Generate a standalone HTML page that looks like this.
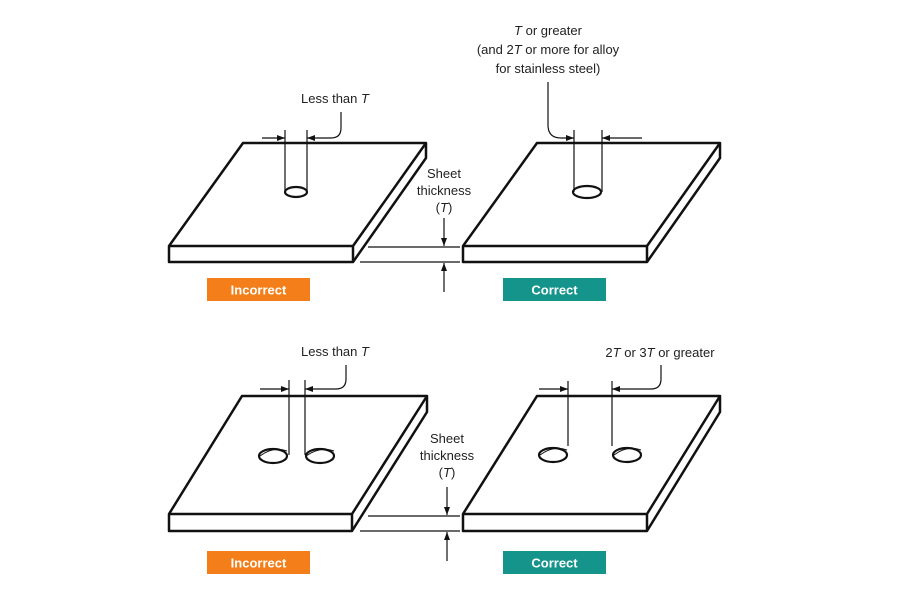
<!DOCTYPE html>
<html><head><meta charset="utf-8"><style>
html,body{margin:0;padding:0;background:#fff;}
svg{display:block;}
text{font-family:"Liberation Sans",sans-serif;font-size:13px;fill:#222;}
.lbl{font-weight:bold;fill:#fff;font-size:13px;}
</style></head><body>
<svg width="900" height="600" viewBox="0 0 900 600" xmlns="http://www.w3.org/2000/svg">
<defs>
<marker id="a" markerWidth="8" markerHeight="6" refX="8" refY="3" orient="auto" markerUnits="userSpaceOnUse"><path d="M0,0 L8,3 L0,6 z" fill="#111"/></marker>
</defs>
<g fill="none" stroke="#111">
<!-- top-left plate -->
<g stroke-width="2.5" stroke-linejoin="round">
<path d="M169,246 L243,143 L426,143 L426,158 L353,262 L169,262 Z"/>
<path d="M169,246 L353,246 L426,143 M353,246 L353,262"/>
<!-- top-right plate -->
<path d="M463,246 L537,143 L720,143 L720,158 L647,262 L463,262 Z"/>
<path d="M463,246 L647,246 L720,143 M647,246 L647,262"/>
<!-- bottom-left plate -->
<path d="M169,514 L242,396 L427,396 L427,412 L352,531 L169,531 Z"/>
<path d="M169,514 L352,514 L427,396 M352,514 L352,531"/>
<!-- bottom-right plate -->
<path d="M463,514 L537,396 L720,396 L720,412 L647,531 L463,531 Z"/>
<path d="M463,514 L647,514 L720,396 M647,514 L647,531"/>
</g>
<!-- holes -->
<g stroke-width="2.2">
<ellipse cx="296" cy="192" rx="11" ry="5"/>
<ellipse cx="587" cy="192" rx="14" ry="6"/>
<ellipse cx="273" cy="456" rx="14" ry="7"/>
<ellipse cx="320" cy="456" rx="14" ry="7"/>
<ellipse cx="553" cy="455" rx="14" ry="7"/>
<ellipse cx="627" cy="455" rx="14" ry="7"/>
</g>
<g stroke-width="1.2">
<path d="M287,451 Q273,446 260,456 M334,451 Q320,446 306,456 M567,450 Q553,445 540,455 M641,450 Q627,445 614,455" stroke-width="1"/>
<!-- dimension lines -->
<line x1="285" y1="130" x2="285" y2="192"/>
<line x1="307" y1="130" x2="307" y2="192"/>
<line x1="262" y1="138" x2="285" y2="138" marker-end="url(#a)"/>
<path d="M341,112 L341,128 Q341,138 331,138 L307,138" marker-end="url(#a)"/>
<line x1="574" y1="130" x2="574" y2="192"/>
<line x1="602" y1="130" x2="602" y2="192"/>
<line x1="642" y1="138" x2="602" y2="138" marker-end="url(#a)"/>
<path d="M548,82 L548,125 Q548,138 561,138 L574,138" marker-end="url(#a)"/>
<line x1="289" y1="380" x2="289" y2="455"/>
<line x1="305" y1="380" x2="305" y2="455"/>
<line x1="260" y1="389" x2="289" y2="389" marker-end="url(#a)"/>
<path d="M346,365 L346,379 Q346,389 336,389 L305,389" marker-end="url(#a)"/>
<line x1="568" y1="381" x2="568" y2="446"/>
<line x1="612" y1="381" x2="612" y2="446"/>
<line x1="539" y1="389" x2="568" y2="389" marker-end="url(#a)"/>
<path d="M661,365 L661,379 Q661,389 651,389 L612,389" marker-end="url(#a)"/>
<!-- thickness -->
<line x1="368" y1="247" x2="460" y2="247"/>
<line x1="360" y1="262" x2="460" y2="262"/>
<line x1="444" y1="218" x2="444" y2="246" marker-end="url(#a)"/>
<line x1="444" y1="292" x2="444" y2="263" marker-end="url(#a)"/>
<line x1="368" y1="516" x2="460" y2="516"/>
<line x1="360" y1="531" x2="460" y2="531"/>
<line x1="447" y1="487" x2="447" y2="515" marker-end="url(#a)"/>
<line x1="447" y1="561" x2="447" y2="532" marker-end="url(#a)"/>
</g>
</g>
<text x="335" y="103" text-anchor="middle">Less than <tspan font-style="italic">T</tspan></text>
<text x="335" y="356" text-anchor="middle">Less than <tspan font-style="italic">T</tspan></text>
<text x="548" y="35" text-anchor="middle"><tspan font-style="italic">T</tspan> or greater</text>
<text x="548" y="54" text-anchor="middle">(and 2<tspan font-style="italic">T</tspan> or more for alloy</text>
<text x="548" y="73" text-anchor="middle">for stainless steel)</text>
<text x="660" y="357" text-anchor="middle">2<tspan font-style="italic">T</tspan> or 3<tspan font-style="italic">T</tspan> or greater</text>
<text x="444" y="178" text-anchor="middle">Sheet</text>
<text x="444" y="195" text-anchor="middle">thickness</text>
<text x="444" y="212" text-anchor="middle">(<tspan font-style="italic">T</tspan>)</text>
<text x="447" y="443" text-anchor="middle">Sheet</text>
<text x="447" y="460" text-anchor="middle">thickness</text>
<text x="447" y="477" text-anchor="middle">(<tspan font-style="italic">T</tspan>)</text>
<rect x="207" y="278" width="103" height="23" fill="#f47f1a"/>
<rect x="503" y="278" width="103" height="23" fill="#14948a"/>
<rect x="207" y="551" width="103" height="23" fill="#f47f1a"/>
<rect x="503" y="551" width="103" height="23" fill="#14948a"/>
<text class="lbl" x="258.5" y="294.5" text-anchor="middle">Incorrect</text>
<text class="lbl" x="554.5" y="294.5" text-anchor="middle">Correct</text>
<text class="lbl" x="258.5" y="567.5" text-anchor="middle">Incorrect</text>
<text class="lbl" x="554.5" y="567.5" text-anchor="middle">Correct</text>
</svg>
</body></html>
